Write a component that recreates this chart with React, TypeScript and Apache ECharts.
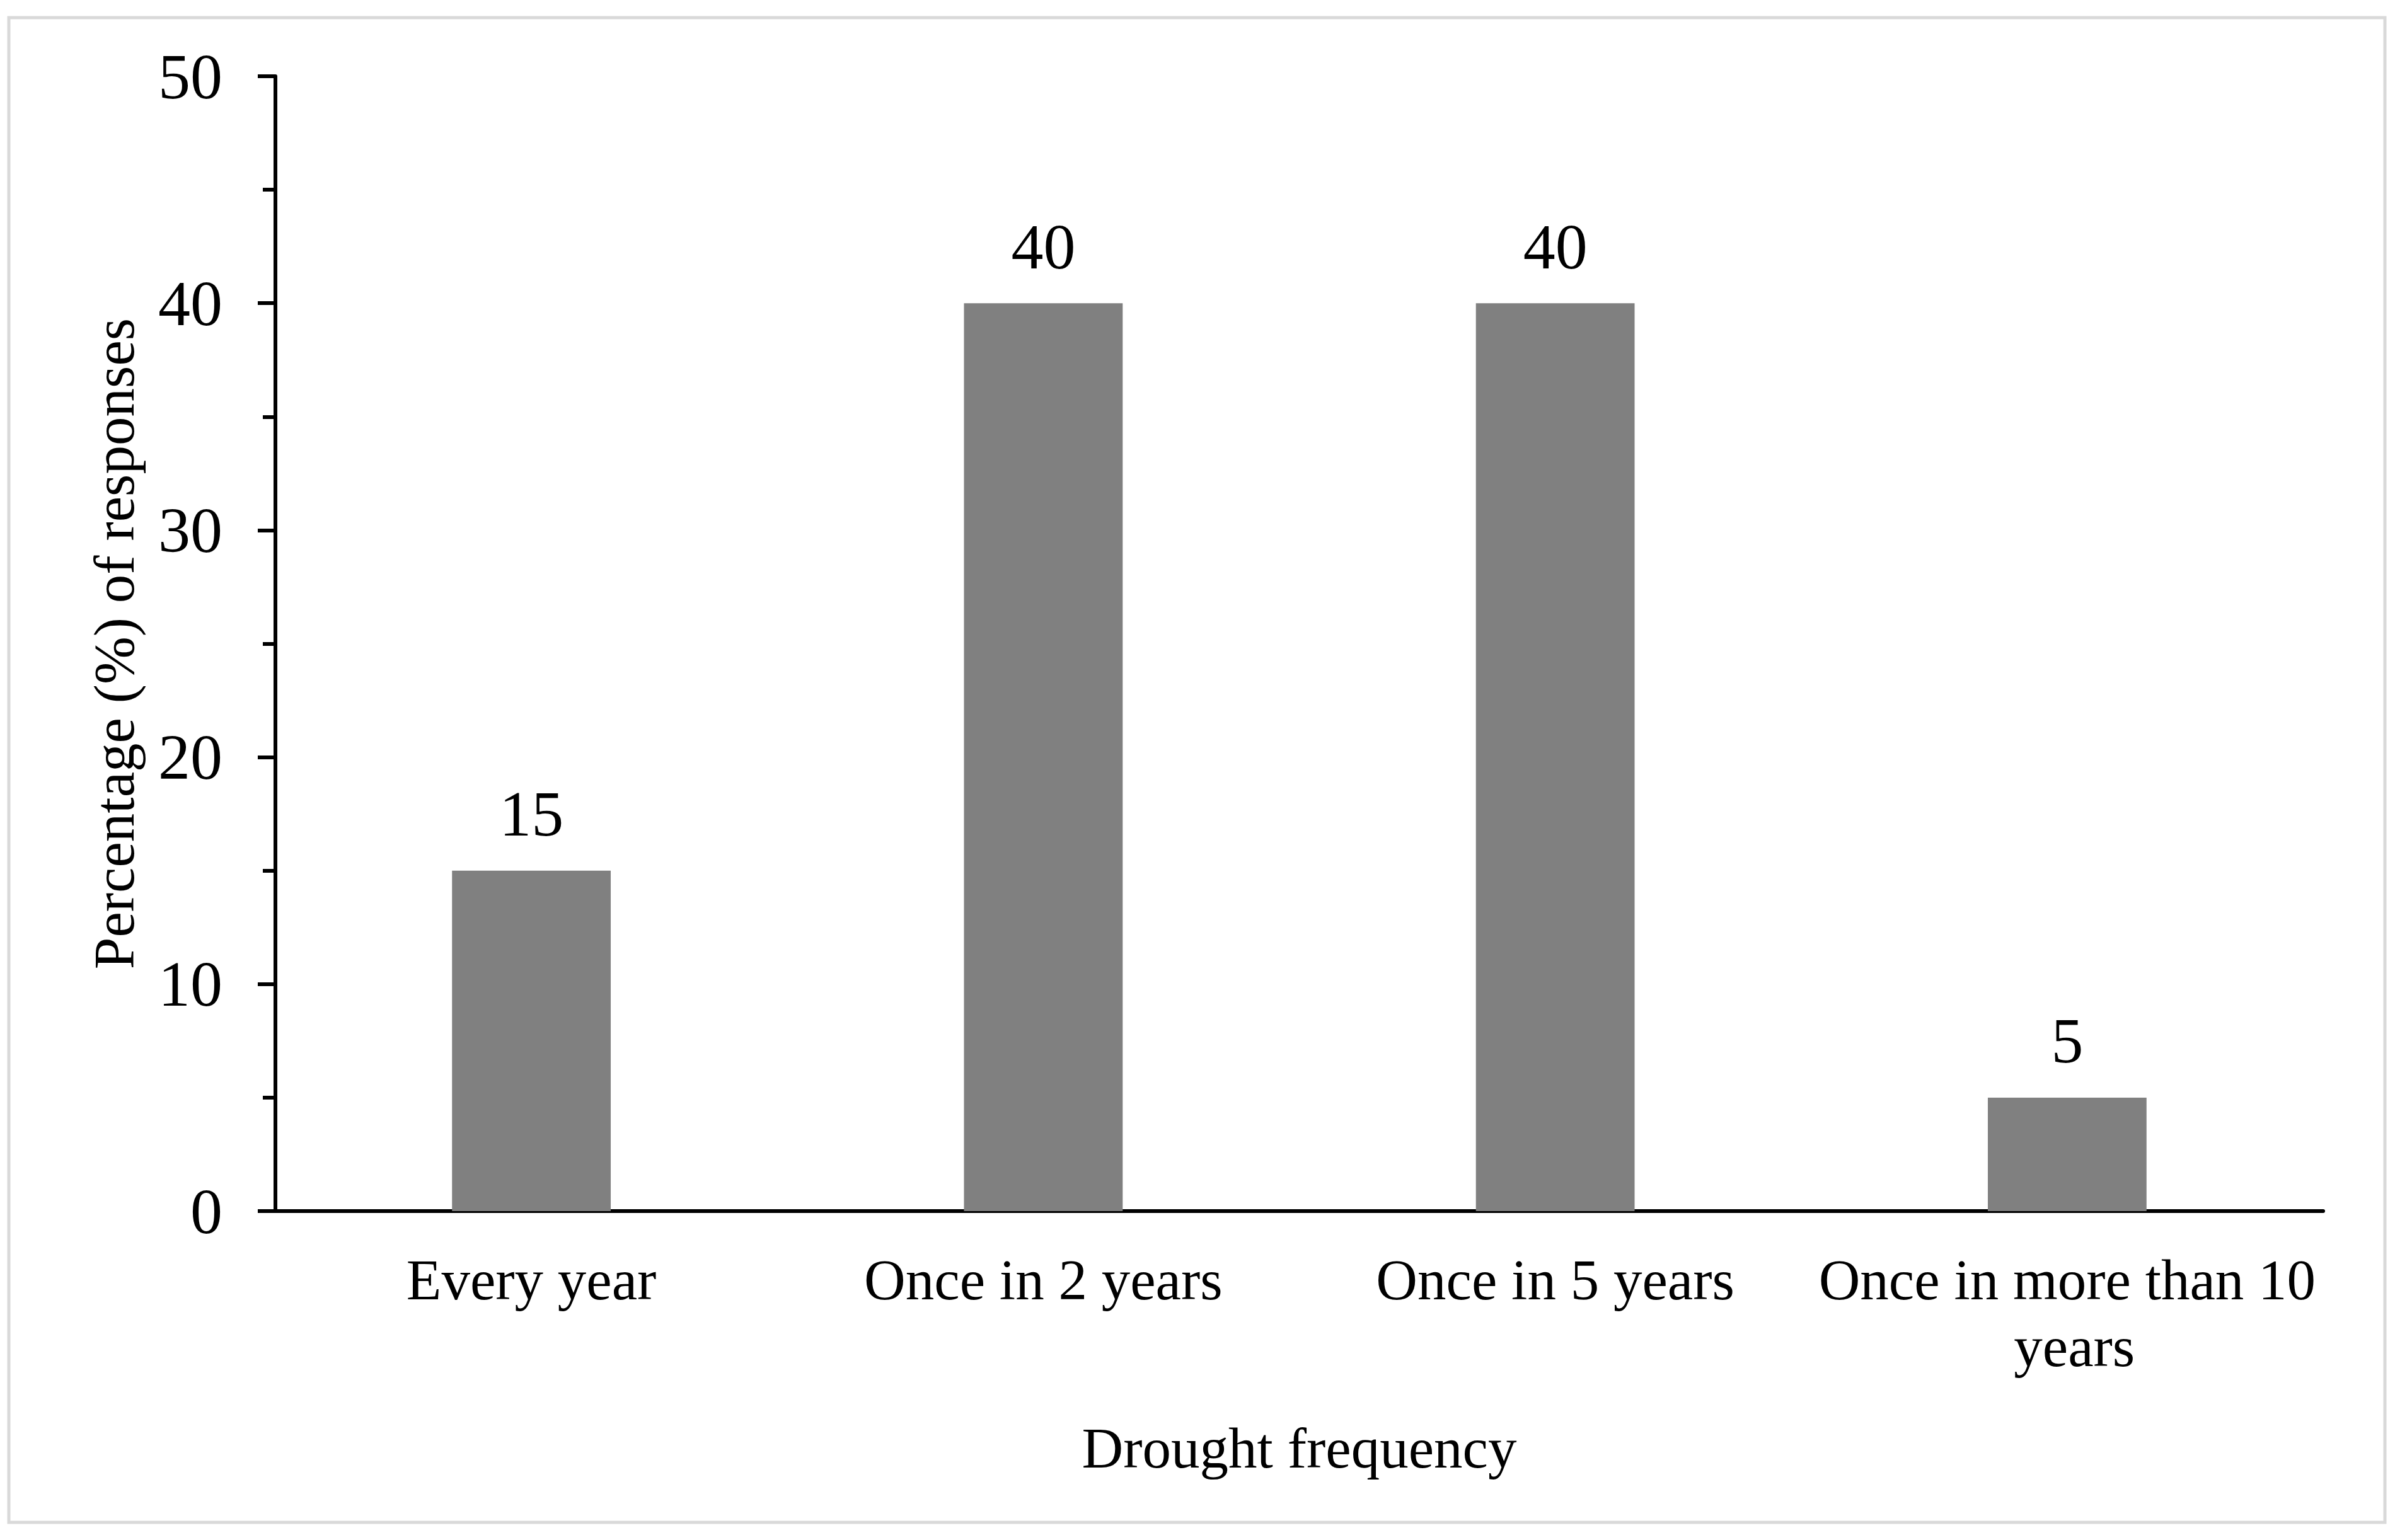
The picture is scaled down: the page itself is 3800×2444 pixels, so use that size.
import React, { useEffect, useRef } from "react";
import * as echarts from "echarts";

const categories = ["Every year", "Once in 2 years", "Once in 5 years", "Once in more than 10 years"];
const values = [15, 40, 40, 5];
const yAxisTitle = "Percentage (%) of responses";
const xAxisTitle = "Drought frequency";

const FONT = "'Liberation Serif', 'Times New Roman', serif";
const FS = 91;
const NUM_FS = 102;

export default function App() {
  const ref = useRef<HTMLDivElement>(null);
  useEffect(() => {
    document.body.style.margin = "0";
    const chart = echarts.init(ref.current!, null, { renderer: "svg" });
    chart.setOption({
      animation: false,
      backgroundColor: "#ffffff",
      textStyle: { fontFamily: FONT, color: "#000" },
      graphic: [
        {
          type: "rect",
          shape: { x: 14, y: 28, width: 3770, height: 2388 },
          style: { fill: "none", stroke: "#d9d9d9", lineWidth: 5 },
          silent: true,
        },
      ],
      grid: { left: 437, right: 114, top: 121, bottom: 522, containLabel: false },
      xAxis: {
        type: "category",
        data: categories,
        axisLine: { show: true, lineStyle: { color: "#000", width: 6 } },
        axisTick: { show: false },
        axisLabel: {
          interval: 0,
          margin: 56,
          fontSize: FS,
          lineHeight: 106,
          fontFamily: FONT,
          color: "#000",
          width: 800,
          overflow: "break",
        },
        name: xAxisTitle,
        nameLocation: "middle",
        nameGap: 331,
        nameTextStyle: { fontSize: FS, fontFamily: FONT, color: "#000" },
      },
      yAxis: {
        type: "value",
        min: 0,
        max: 50,
        interval: 10,
        axisLine: { show: true, lineStyle: { color: "#000", width: 6 } },
        axisTick: { show: true, inside: false, length: 28, lineStyle: { color: "#000", width: 6 } },
        minorTick: { show: true, splitNumber: 2, length: 20, lineStyle: { color: "#000", width: 6 } },
        splitLine: { show: false },
        axisLabel: { margin: 84, fontSize: NUM_FS, fontFamily: FONT, color: "#000" },
        name: yAxisTitle,
        nameLocation: "middle",
        nameGap: 210,
        nameTextStyle: { fontSize: FS, fontFamily: FONT, color: "#000" },
      },
      series: [
        {
          type: "bar",
          data: values,
          barCategoryGap: "69%",
          itemStyle: { color: "#808080" },
          label: {
            show: true,
            position: "top",
            distance: 39,
            fontSize: NUM_FS,
            fontFamily: FONT,
            color: "#000",
          },
        },
      ],
    });
    return () => chart.dispose();
  }, []);
  return <div ref={ref} style={{ width: 3800, height: 2444 }} />;
}
